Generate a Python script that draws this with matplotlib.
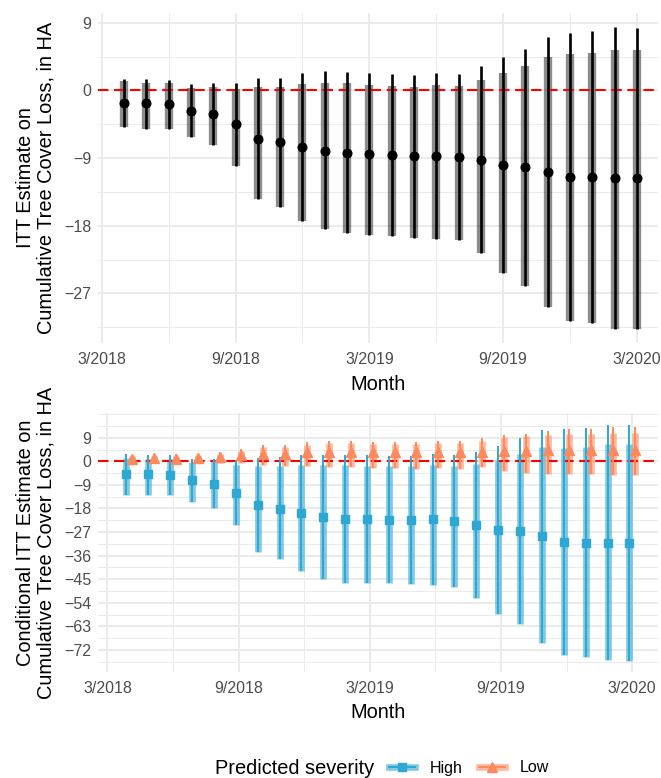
import matplotlib
matplotlib.use('Agg')
import matplotlib.pyplot as plt
from matplotlib.lines import Line2D
import numpy as np

plt.rcParams['font.family'] = ['Liberation Sans', 'DejaVu Sans']

# x = months after 3/2018, points run 4/2018 .. 3/2020
month = np.arange(1, 25)
tick_pos = [0, 6, 12, 18, 24]
tick_labels = ['3/2018', '9/2018', '3/2019', '9/2019', '3/2020']

# top panel: ITT estimate
itt_est = [-1.7, -1.73, -1.82, -2.7, -3.1, -4.44, -6.44, -6.89, -7.55, -8.0, -8.27, -8.4,
           -8.62, -8.7, -8.66, -8.8, -9.2, -9.9, -10.2, -10.84, -11.46, -11.5, -11.64, -11.7]
itt_lo = [-4.9, -5.07, -5.07, -6.2, -7.24, -10.0, -14.5, -15.5, -17.3, -18.4, -19.0, -19.2,
          -19.4, -19.6, -19.7, -19.9, -21.6, -24.3, -26.0, -28.8, -30.7, -31.0, -31.7, -31.8]
itt_hi_bar = [1.2, 1.0, 1.0, 0.3, 0.45, 0.18, 0.45, 0.45, 0.9, 1.0, 1.0, 0.76,
              0.62, 0.45, 0.76, 0.62, 1.42, 2.36, 3.3, 4.45, 4.9, 5.03, 5.43, 5.43]
itt_hi_line = [1.56, 1.56, 1.42, 0.85, 1.0, 1.0, 1.7, 1.7, 2.36, 2.6, 2.5, 2.36,
               2.2, 2.05, 2.36, 2.2, 3.25, 4.45, 5.56, 7.1, 7.65, 7.96, 8.45, 8.3]

# bottom panel: conditional ITT by predicted severity
high_est = [-5.0, -5.0, -5.3, -7.2, -8.5, -12.1, -16.8, -18.1, -19.8, -21.2, -21.9, -21.9,
            -22.3, -22.3, -22.1, -22.8, -24.2, -26.2, -26.7, -28.5, -30.8, -31.0, -31.0, -31.2]
high_lo = [-12.7, -12.7, -12.7, -15.5, -17.8, -24.4, -34.8, -37.1, -41.7, -44.9, -46.3, -46.3,
           -46.4, -46.7, -47.1, -47.9, -52.1, -58.2, -62.1, -69.2, -73.8, -74.7, -75.9, -76.2]
high_hi_bar = [1.3, 1.0, 0.8, -0.3, 0.0, -1.3, -1.9, -1.9, -1.5, -1.5, -1.5, -1.9,
               -1.9, -1.9, -1.5, -1.9, -1.1, 0.4, 2.9, 5.5, 5.1, 5.5, 6.5, 6.5]
high_hi_line = [2.7, 2.3, 2.3, 0.8, 0.8, 0.4, 1.3, 1.7, 2.3, 2.3, 2.3, 2.3,
                1.9, 1.9, 2.7, 2.3, 3.6, 5.7, 8.9, 11.8, 12.2, 12.7, 13.7, 13.7]

low_est = [1.0, 1.1, 1.0, 1.1, 1.6, 2.3, 2.9, 2.9, 3.6, 3.6, 3.6, 3.6,
           3.6, 3.6, 3.6, 3.6, 3.6, 3.8, 3.8, 4.2, 4.2, 4.2, 4.2, 4.2]
low_lo = [-0.7, -0.6, -0.5, -0.5, -0.5, -0.6, -1.3, -1.9, -1.9, -2.2, -2.2, -2.5,
          -2.5, -2.8, -2.4, -2.8, -2.2, -3.7, -4.5, -4.7, -4.7, -4.7, -5.3, -5.3]
low_hi_bar = [2.0, 2.2, 2.2, 2.3, 2.9, 4.0, 5.3, 5.3, 6.3, 6.9, 6.8, 6.6,
              6.5, 6.5, 6.9, 6.9, 7.9, 9.2, 9.5, 9.9, 10.4, 10.6, 10.9, 10.9]
low_hi_line = [2.5, 2.6, 2.6, 2.8, 3.4, 4.6, 6.2, 6.2, 7.2, 7.9, 7.6, 7.4,
               7.3, 7.3, 7.8, 7.8, 8.8, 10.2, 10.6, 11.6, 12.2, 12.5, 13.0, 13.0]

blue = '#2ea8d3'
orange = '#fc8a5e'
grid_col = '#ebebeb'


def style_axes(ax, yticks, yminor, ylim, xlim, ylabel):
    for s in ax.spines.values():
        s.set_visible(False)
    ax.set_axisbelow(True)
    ax.set_xticks(tick_pos)
    ax.set_xticklabels(tick_labels)
    ax.set_xticks([3, 9, 15, 21], minor=True)
    ax.set_yticks(yticks)
    ax.set_yticks(yminor, minor=True)
    ax.set_xlim(xlim)
    ax.set_ylim(ylim)
    ax.grid(which='major', color=grid_col, lw=1.4)
    ax.grid(which='minor', color=grid_col, lw=0.7)
    ax.tick_params(which='both', length=0, labelsize=11.5, labelcolor='#4d4d4d', pad=5)
    ax.tick_params(axis='x', pad=6.5)
    ax.set_xlabel('Month', fontsize=14.4, labelpad=5.5)
    ax.set_ylabel(ylabel, fontsize=14.4, labelpad=6, linespacing=1.1)
    ax.axhline(0, color='red', lw=1.5, dashes=(5, 2.7), zorder=3)


fig = plt.figure(figsize=(6.61, 7.78), dpi=100)

ax1 = fig.add_axes([0.1483, 0.5591, 0.8472, 0.4246])
ax1.vlines(month, itt_lo, itt_hi_bar, color='black', alpha=0.45, lw=6, zorder=2)
ax1.vlines(month, itt_lo, itt_hi_line, color='black', lw=1.9, zorder=4)
ax1.plot(month, itt_est, 'o', color='black', ms=6.2, zorder=5)
style_axes(ax1, [-27, -18, -9, 0, 9], [-31.5, -22.5, -13.5, -4.5, 4.5],
           (-33.6, 10.35), (-0.17, 24.95),
           'ITT Estimate on\nCumulative Tree Cover Loss, in HA')

ax2 = fig.add_axes([0.1483, 0.1366, 0.8472, 0.3321])
xh = month - 0.13
xl = month + 0.13
ax2.vlines(xh, high_lo, high_hi_bar, color=blue, alpha=0.6, lw=4.8, zorder=2)
ax2.vlines(xl, low_lo, low_hi_bar, color=orange, alpha=0.6, lw=4.8, zorder=2)
ax2.vlines(xh, high_lo, high_hi_line, color=blue, lw=1.4, zorder=4)
ax2.vlines(xl, low_lo, low_hi_line, color=orange, lw=1.4, zorder=4)
ax2.plot(xh, high_est, 's', color=blue, ms=5.4, zorder=5)
ax2.plot(xl, low_est, '^', color=orange, ms=6.5, zorder=5)
style_axes(ax2, list(range(-72, 10, 9)), [-76.5, -67.5, -58.5, -49.5, -40.5, -31.5, -22.5,
                                          -13.5, -4.5, 4.5, 13.5, 18],
           (-80.3, 18.3), (-0.43, 25.18),
           'Conditional ITT Estimate on\nCumulative Tree Cover Loss, in HA')

# legend at the bottom
fig.text(215 / 661, 1 - 768 / 778, 'Predicted severity', fontsize=14.4, va='center', ha='left')
h_high = (Line2D([], [], color=blue, alpha=0.6, lw=4.8),
          Line2D([], [], color=blue, lw=1.4, marker='s', ms=5.4))
h_low = (Line2D([], [], color=orange, alpha=0.6, lw=4.8),
         Line2D([], [], color=orange, lw=1.4, marker='^', ms=6.5))
fig.legend([h_high, h_low], ['High', 'Low'], ncol=2, frameon=False, fontsize=11.5,
           loc='center left', bbox_to_anchor=(389 / 661, 1 - 768 / 778),
           borderpad=0, borderaxespad=0, handlelength=1.65, handletextpad=0.9,
           columnspacing=1.0)

fig.savefig('out.png', dpi=100)
